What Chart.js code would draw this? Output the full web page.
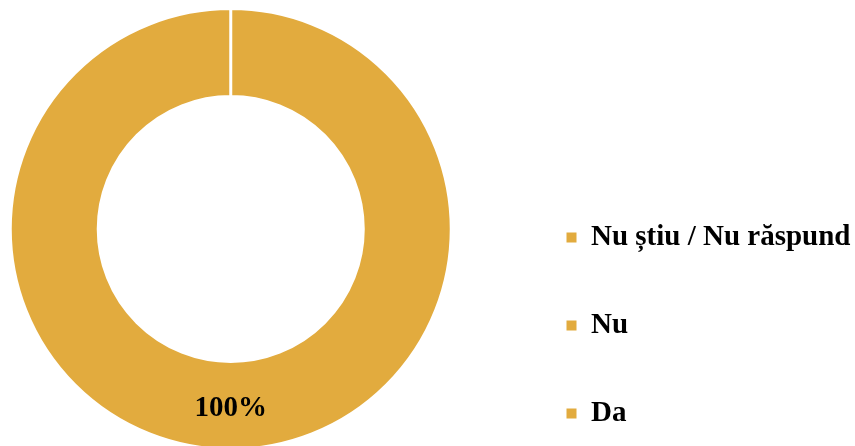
<!DOCTYPE html>
<html lang="ro">
<head>
<meta charset="utf-8">
<title>Răspunsuri</title>
<script src="https://cdn.jsdelivr.net/npm/chart.js@4.4.1/dist/chart.umd.min.js"></script>
<style>
    html, body { margin: 0; padding: 0; background: #fff; overflow: hidden; }
    .wrap { position: relative; width: 855px; height: 446px; overflow: hidden; }
    /* canvas is a bit larger than the window so the ring and the legend land where the original has them */
    .chart-box { position: absolute; left: -46px; top: -29px; width: 914px; height: 516px; }
</style>
</head>
<body>
<div class="wrap">
    <div class="chart-box"><canvas id="raspunsChart"></canvas></div>
</div>
<script>
const categorii = ['Nu știu / Nu răspund', 'Nu', 'Da'];
const valori = [0, 0, 100];
const culori = ['#E2AB3E', '#E2AB3E', '#E2AB3E'];

const fontSerif = '"Liberation Serif", "Times New Roman", serif';

// Procentul scris pe mijlocul fiecarui segment nenul
const etichetaProcent = {
    id: 'etichetaProcent',
    afterDatasetsDraw(chart) {
        const ctx = chart.ctx;
        const meta = chart.getDatasetMeta(0);
        const total = valori.reduce((a, b) => a + b, 0);
        ctx.save();
        ctx.font = 'bold 29px ' + fontSerif;
        ctx.fillStyle = '#000';
        ctx.textAlign = 'center';
        ctx.textBaseline = 'middle';
        meta.data.forEach((arc, i) => {
            if (!valori[i]) return;
            const p = arc.tooltipPosition();
            ctx.fillText(Math.round(valori[i] / total * 100) + '%', p.x, p.y + 3);
        });
        ctx.restore();
    }
};

const ctx = document.getElementById('raspunsChart').getContext('2d');
const raspunsChart = new Chart(ctx, {
    type: 'doughnut',
    data: {
        labels: categorii,
        datasets: [{
            data: valori,
            backgroundColor: culori,
            borderColor: '#ffffff',
            borderWidth: 3
        }]
    },
    options: {
        responsive: true,
        maintainAspectRatio: false,
        animation: false,
        radius: 220.5,
        cutout: '60.1%',
        layout: {
            padding: { right: 7.5 }
        },
        plugins: {
            tooltip: { enabled: false },
            legend: {
                position: 'right',
                align: 'end',
                labels: {
                    boxWidth: 10,
                    boxHeight: 10,
                    padding: 59,
                    color: '#000',
                    font: { family: fontSerif, size: 29, weight: 'bold' },
                    generateLabels: chart => Chart.overrides.doughnut.plugins.legend.labels
                        .generateLabels(chart)
                        .map(item => Object.assign(item, { lineWidth: 0 }))
                }
            }
        }
    },
    plugins: [etichetaProcent]
});
</script>
</body>
</html>
